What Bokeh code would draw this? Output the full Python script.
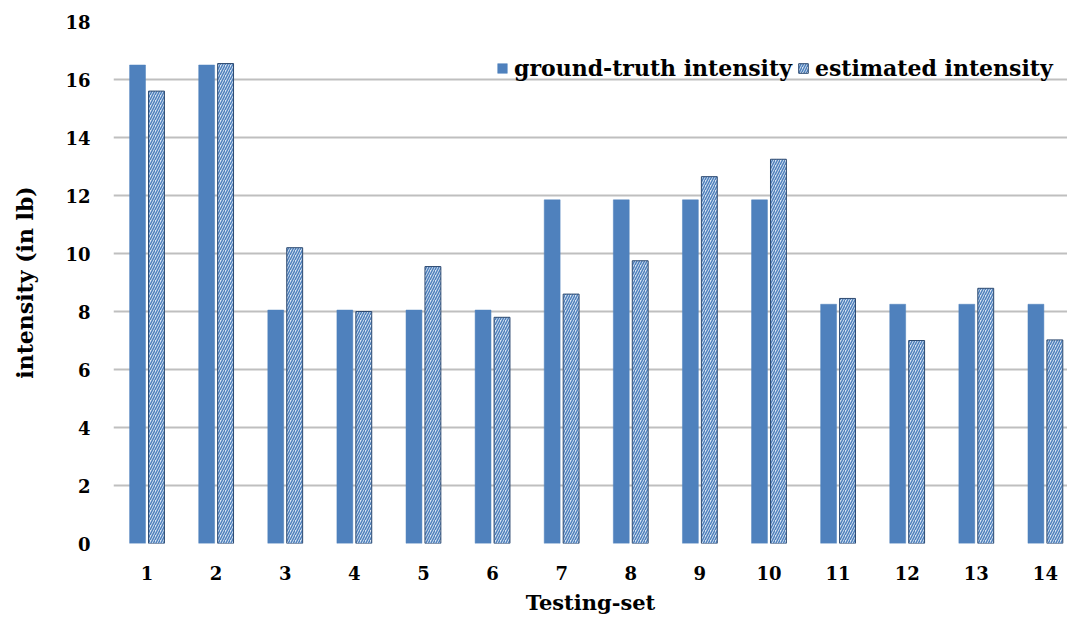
from bokeh.embed import file_html
from bokeh.models import ColumnDataSource, FixedTicker, Legend, LegendItem, Range1d
from bokeh.plotting import figure
from bokeh.resources import INLINE
from bokeh.transform import dodge

# values
testing_sets = list(range(1, 15))
ground_truth = [16.5, 16.5, 8.05, 8.05, 8.05, 8.05, 11.85, 11.85, 11.85, 11.85,
                8.25, 8.25, 8.25, 8.25]
estimated = [15.6, 16.55, 10.2, 8.0, 9.55, 7.8, 8.6, 9.75, 12.65, 13.25,
             8.45, 7.0, 8.8, 7.02]

FONT = "DejaVu Serif"
BLUE = "#4F81BD"
GRID = "#BFBFBF"

src = ColumnDataSource(dict(x=testing_sets, gt=ground_truth, est=estimated))

p = figure(
    width=1067, height=618,
    x_range=Range1d(0.515, 14.32), y_range=Range1d(0, 18),
    output_backend="svg", toolbar_location=None,
    min_border_left=113, min_border_right=0,
    min_border_top=21, min_border_bottom=75,
)
p.outline_line_color = None

r_gt = p.vbar(x=dodge("x", -0.137, range=p.x_range), top="gt", width=0.23,
              source=src, fill_color=BLUE, line_color=BLUE, line_width=0.5)
r_est = p.vbar(x=dodge("x", 0.137, range=p.x_range), top="est", width=0.23,
               source=src, fill_color="#DCE6F2", line_color="#2E4A70",
               line_width=1, hatch_pattern="right_diagonal_line",
               hatch_color=BLUE, hatch_scale=5, hatch_weight=1.5)

# axes
p.xaxis.ticker = FixedTicker(ticks=testing_sets)
p.yaxis.ticker = FixedTicker(ticks=list(range(0, 19, 2)))
for ax in (p.xaxis[0], p.yaxis[0]):
    ax.axis_line_color = None
    ax.major_tick_line_color = None
    ax.minor_tick_line_color = None
    ax.major_tick_out = 0
    ax.minor_tick_out = 0
    ax.major_label_text_font = FONT
    ax.major_label_text_font_style = "bold"
    ax.major_label_text_font_size = "18px"
    ax.major_label_text_color = "black"
    ax.axis_label_text_font = FONT
    ax.axis_label_text_font_style = "bold"
    ax.axis_label_text_color = "black"
p.xaxis.major_label_standoff = 22
p.yaxis.major_label_standoff = 23
p.xaxis.axis_label = "Testing-set"
p.yaxis.axis_label = "intensity (in lb)"
p.xaxis.axis_label_text_font_size = "21px"
p.yaxis.axis_label_text_font_size = "22px"
p.xaxis.axis_label_standoff = 7
p.yaxis.axis_label_standoff = 24

p.xgrid.grid_line_color = None
p.ygrid.grid_line_color = GRID
p.ygrid.grid_line_width = 2

legend = Legend(
    items=[LegendItem(label="ground-truth intensity", renderers=[r_gt]),
           LegendItem(label="estimated intensity", renderers=[r_est])],
    orientation="horizontal", location=(383, 462),
    background_fill_alpha=0, border_line_color=None,
    label_text_font=FONT, label_text_font_style="bold",
    label_text_font_size="22px", label_text_color="black",
    glyph_width=12, glyph_height=12, spacing=5, label_standoff=6,
    margin=0, padding=0,
)
p.add_layout(legend)

open("out.html", "w").write(file_html(p, INLINE))
